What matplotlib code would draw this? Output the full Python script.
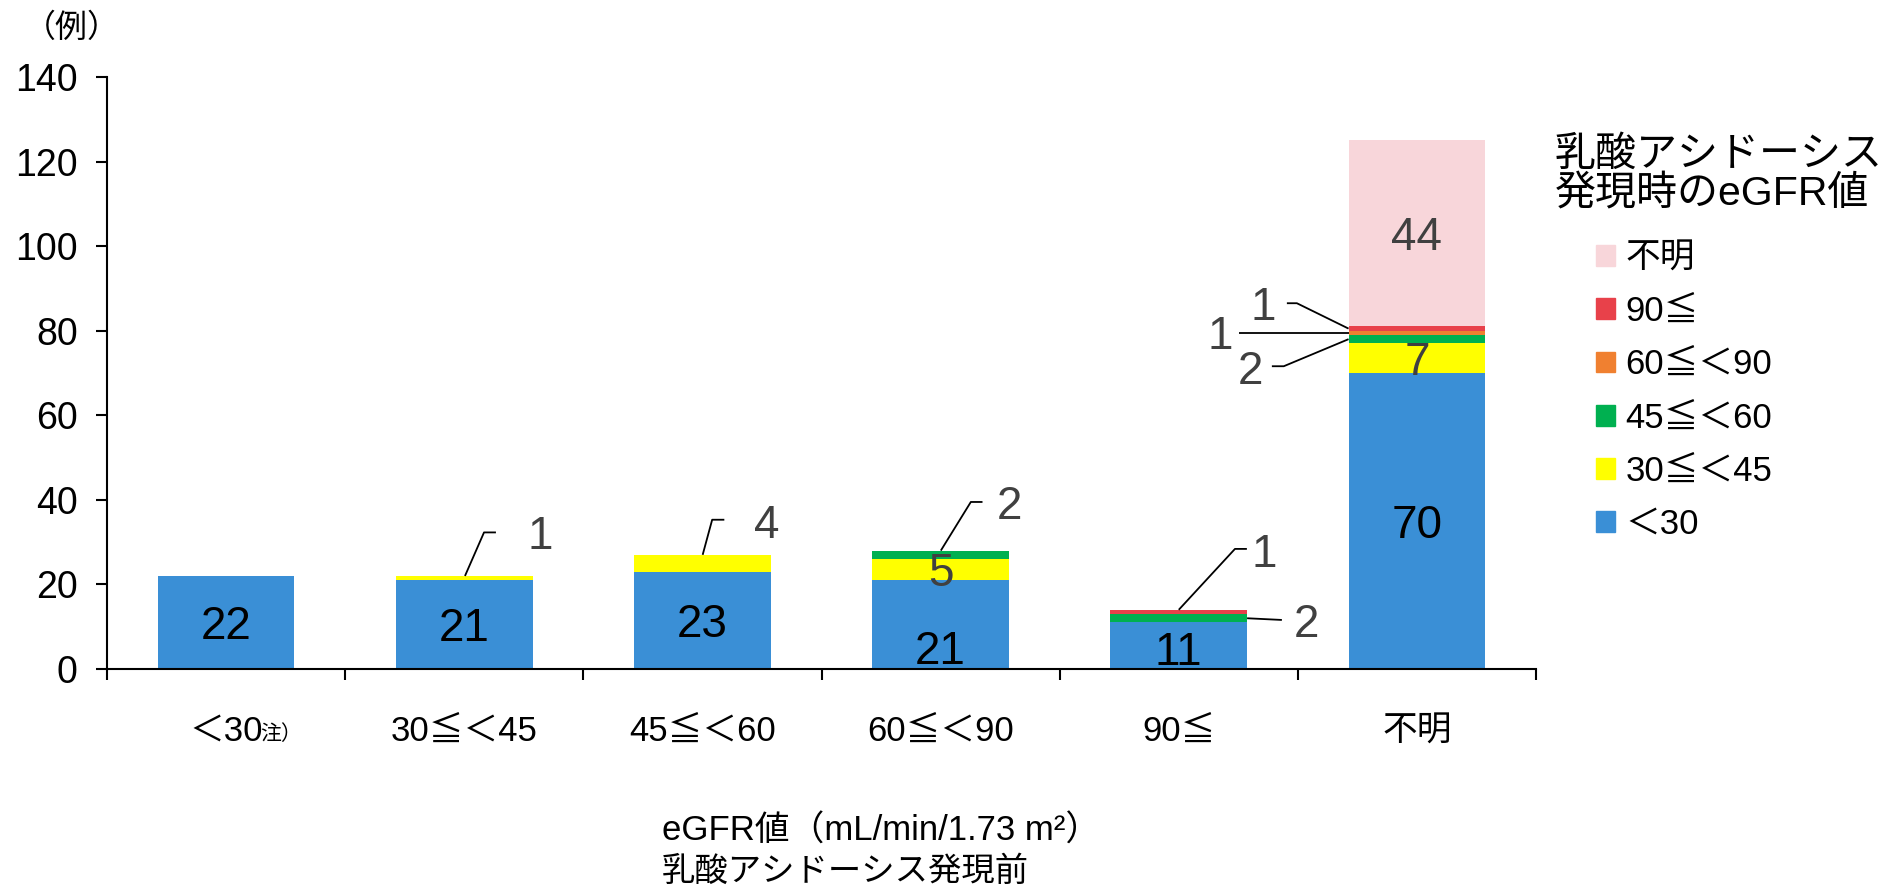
import matplotlib.pyplot as plt
from matplotlib.patches import Patch

plt.rcParams['font.family'] = ['Liberation Sans', 'Noto Sans CJK JP']

categories = ['＜30', '30≦＜45', '45≦＜60', '60≦＜90', '90≦', '不明']
series_names = ['＜30', '30≦＜45', '45≦＜60', '60≦＜90', '90≦', '不明']
lt30 = [22, 21, 23, 21, 11, 70]
s30_45 = [0, 1, 4, 5, 0, 7]
s45_60 = [0, 0, 0, 2, 2, 2]
s60_90 = [0, 0, 0, 0, 0, 1]
s90 = [0, 0, 0, 0, 1, 1]
unknown = [0, 0, 0, 0, 0, 44]

series = [lt30, s30_45, s45_60, s60_90, s90, unknown]
colors = ['#3A8FD6', '#FFFF00', '#00B050', '#F08030', '#E8414A', '#F8D6DA']

# which segments get a number inside the bar
inside = [(i, 0) for i in range(6)] + [(3, 1), (5, 1), (5, 5)]
inside_y = {(3, 0): 5.2, (4, 0): 5.0}
shift = -1.1  # text sits a bit low in the original

# callouts: (cat, series, anchor, dx, bend points (x off, y), text (x off, y))
callouts = [
    (1, 1, 'top', 0.003, [(0.083, 32.3), (0.133, 32.3)], (0.321, 32.3)),
    (2, 1, 'top', 0.001, [(0.041, 35.3), (0.092, 35.3)], (0.272, 35.0)),
    (3, 2, 'top', 0.001, [(0.127, 39.5), (0.176, 39.5)], (0.288, 39.3)),
    (4, 4, 'top', 0.0, [(0.236, 28.4), (0.286, 28.4)], (0.36, 28.0)),
    (4, 2, 'mid', 0.287, [(0.433, 11.6)], (0.537, 11.6)),
    (5, 4, 'mid', -0.287, [(-0.504, 86.5), (-0.546, 86.5)], (-0.647, 86.5)),
    (5, 3, 'mid', -0.287, [(-0.748, 79.5)], (-0.827, 79.5)),
    (5, 2, 'mid', -0.287, [(-0.559, 71.6), (-0.609, 71.6)], (-0.697, 71.4)),
]

fig = plt.figure(figsize=(18.93, 8.88), dpi=100)
ax = fig.add_axes([107 / 1893, 219 / 888, 1429 / 1893, 592 / 888])

x = list(range(len(categories)))
bottom = [0] * len(categories)
bottoms = []
for vals, col, name in zip(series, colors, series_names):
    bottoms.append(list(bottom))
    ax.bar(x, vals, width=0.574, bottom=bottom, color=col, label=name)
    bottom = [b + v for b, v in zip(bottom, vals)]

for (c, s) in inside:
    y = inside_y.get((c, s), bottoms[s][c] + series[s][c] / 2)
    col = 'black' if s == 0 else '#404040'
    ax.text(c, y + shift, str(series[s][c]), ha='center', va='center',
            fontsize=33, color=col)

for c, s, where, dx, bends, txt in callouts:
    if where == 'top':
        y0 = bottoms[s][c] + series[s][c]
    else:
        y0 = bottoms[s][c] + series[s][c] / 2
    xs = [c + dx] + [c + b[0] for b in bends]
    ys = [y0] + [b[1] for b in bends]
    ax.plot(xs, ys, color='black', lw=1.3, solid_capstyle='butt')
    ax.text(c + txt[0], txt[1] + shift, str(series[s][c]), ha='center',
            va='center', fontsize=33, color='#404040')

ax.set_xlim(-0.5, 5.5)
ax.set_ylim(0, 140)
ax.set_yticks(range(0, 141, 20))
ax.tick_params(axis='y', labelsize=27, length=8, width=1.5, pad=13)
ax.set_xticks(x)
ax.set_xticklabels(categories, fontsize=25)
ax.tick_params(axis='x', which='major', length=0, pad=33)
ax.set_xticks([i - 0.5 for i in range(7)], minor=True)
ax.tick_params(axis='x', which='minor', length=8, width=1.5)
for sp in ['top', 'right']:
    ax.spines[sp].set_visible(False)
for sp in ['left', 'bottom']:
    ax.spines[sp].set_linewidth(1.5)

ax.text(0.145, -0.11, '注）', transform=ax.get_xaxis_transform(), fontsize=15,
        ha='left', va='center')

fig.text(72 / 1893, 1 - 29 / 888, '（例）', fontsize=23, ha='center', va='center')
fig.text(662 / 1893, 1 - 831 / 888, 'eGFR値（mL/min/1.73 m²）', fontsize=25,
         ha='left', va='center')
fig.text(662 / 1893, 1 - 872 / 888, '乳酸アシドーシス発現前', fontsize=24,
         ha='left', va='center')

# legend title drawn as text, offset left of the entries
fig.text(1555 / 1893, 1 - 155 / 888, '乳酸アシドーシス', fontsize=29.5,
         ha='left', va='center')
fig.text(1555 / 1893, 1 - 194 / 888, '発現時のeGFR値', fontsize=29.5,
         ha='left', va='center')

handles = [Patch(color=c) for c in colors][::-1]
leg = fig.legend(handles, series_names[::-1], loc='upper left',
                 bbox_to_anchor=(1596 / 1893, 1 - 242 / 888), frameon=False,
                 fontsize=25, borderpad=0, borderaxespad=0,
                 handlelength=0.55, handleheight=0.55,
                 handletextpad=0.3, labelspacing=0.58)

fig.savefig('out.png', dpi=100)
